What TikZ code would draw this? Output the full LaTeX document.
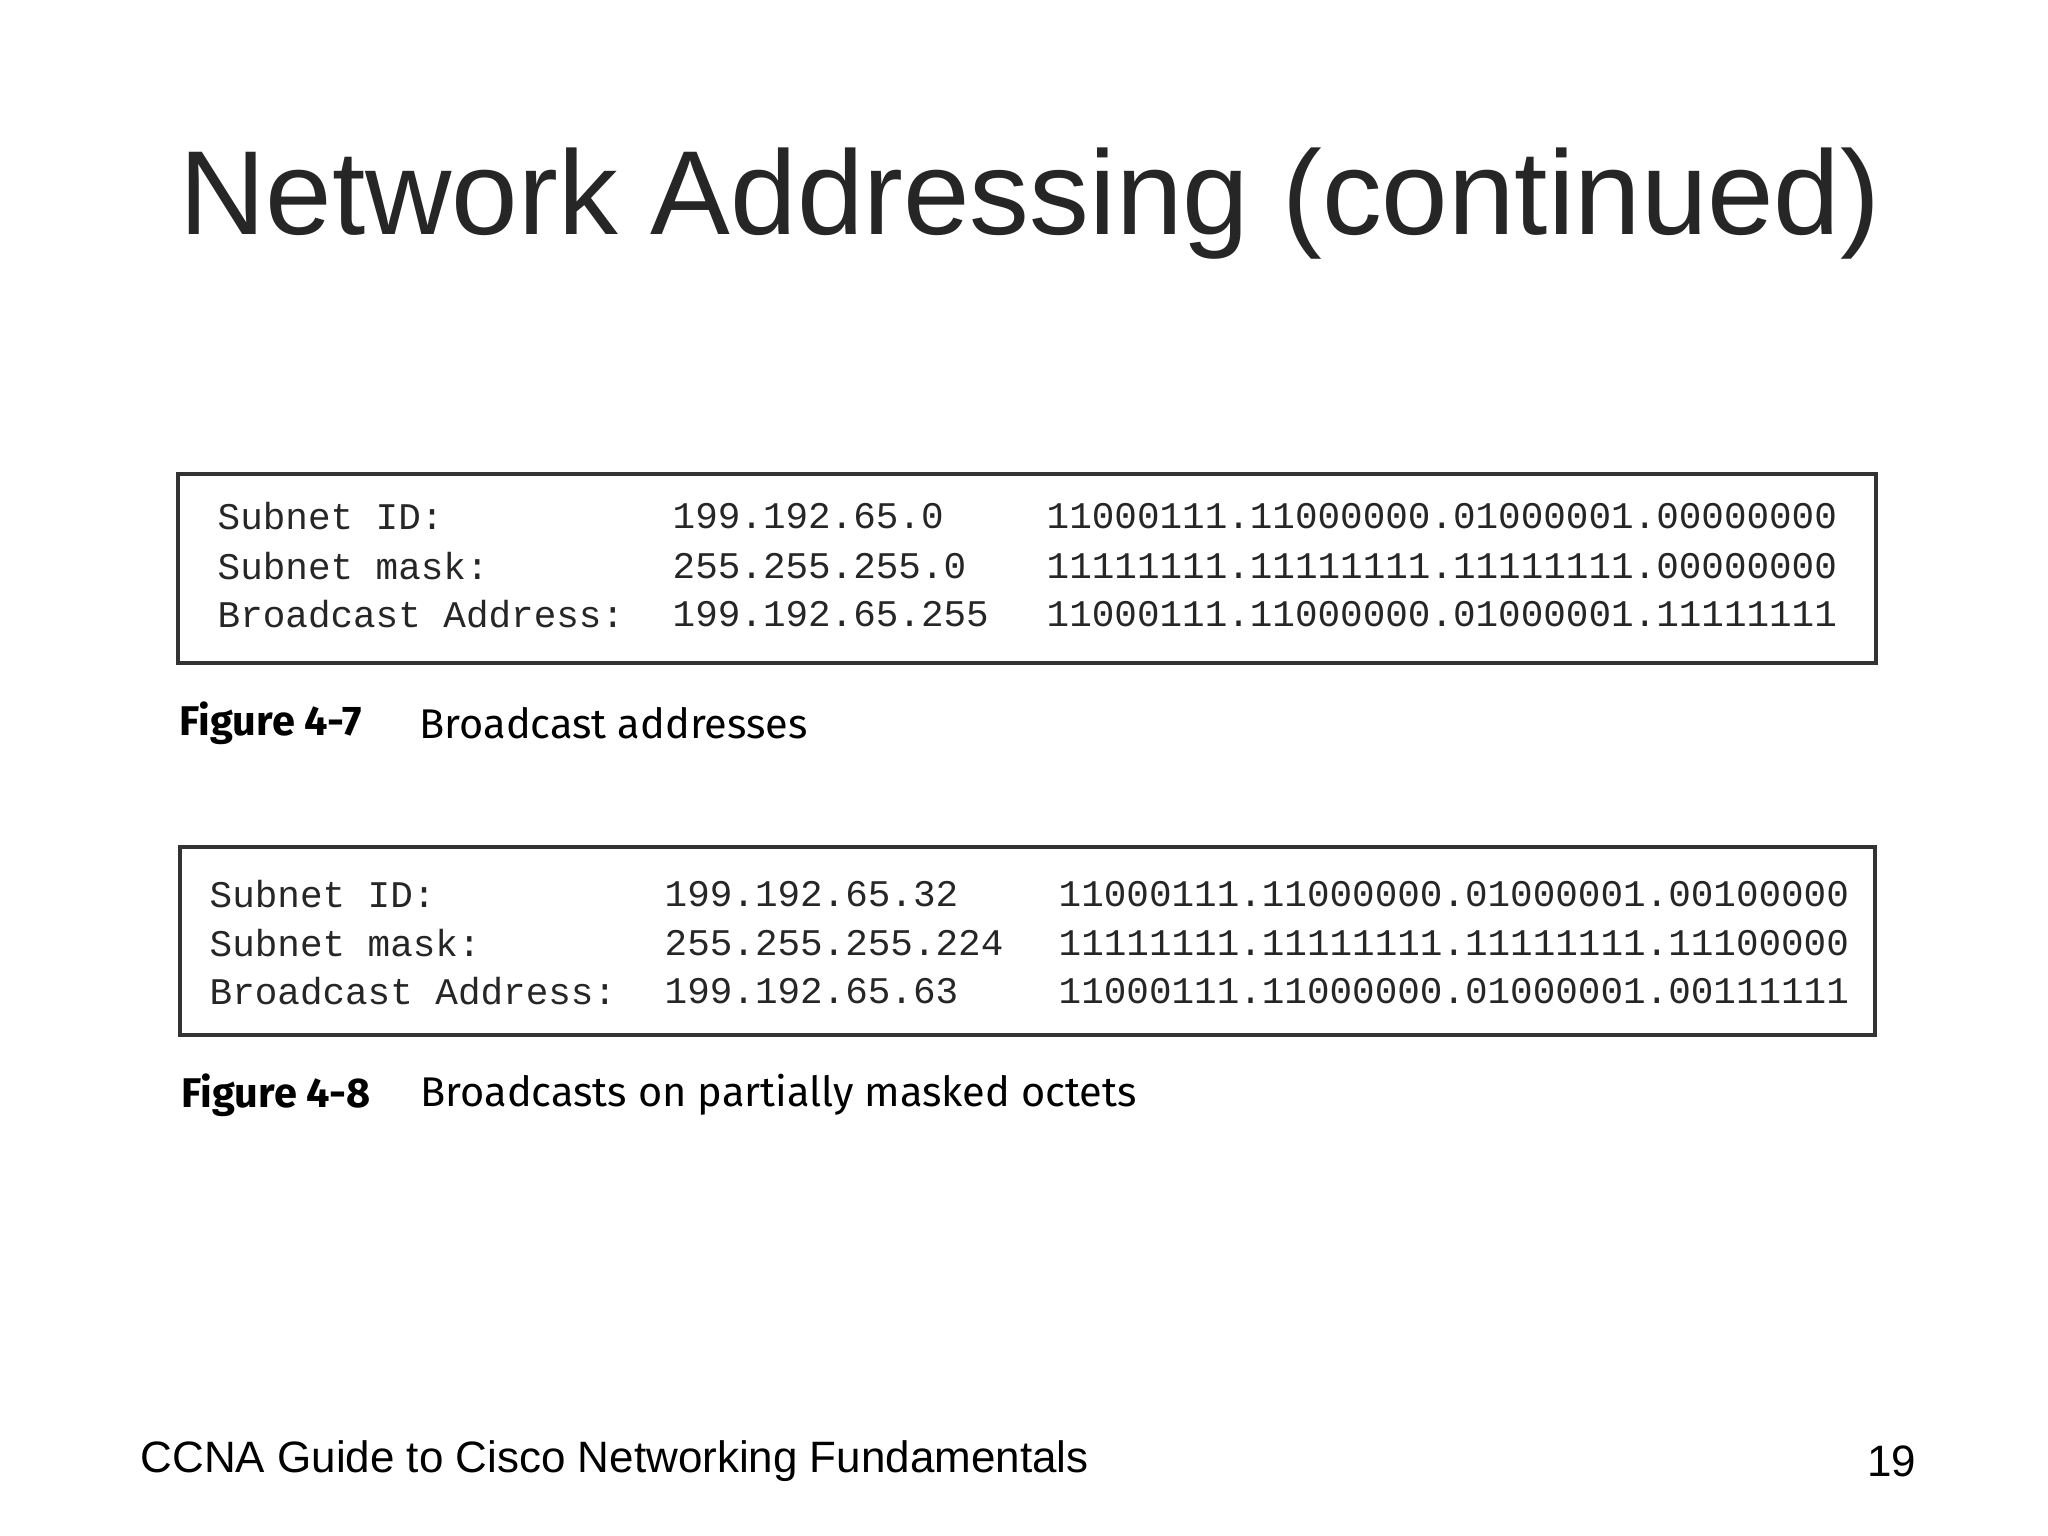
\documentclass[tikz,border=0pt]{standalone}
\usepackage{fontspec}
\setmainfont{Liberation Sans}
\newfontfamily\monof{Liberation Mono}
\newfontfamily\capf{Fira Sans}
\begin{document}
\begin{tikzpicture}[x=0.01cm,y=-0.01cm,
  mono/.style={anchor=west,inner sep=0pt,font=\monof\fontsize{10.7}{12}\selectfont,text=black!85},
  captxt/.style={anchor=west,inner sep=0pt,font=\capf\fontsize{11.8}{14}\selectfont},
  capb/.style={anchor=west,inner sep=0pt,font=\capf\bfseries\fontsize{11.8}{14}\selectfont},
  frame/.style={draw=black!80,line width=0.9pt}]
\useasboundingbox (0,0) rectangle (2048,1536);
\node[font=\fontsize{34}{40}\selectfont,text=black!85] (title) at (1030,204) {Network Addressing (continued)};
\draw[frame] (178,474) rectangle (1876,663);
\foreach \r/\a/\b/\c [count=\i] in {516/Subnet ID:/199.192.65.0/11000111.11000000.01000001.00000000,
  566/Subnet mask:/255.255.255.0/11111111.11111111.11111111.00000000,
  614/Broadcast Address:/199.192.65.255/11000111.11000000.01000001.11111111}{
  \node[mono] (a\i) at (217,\r) {\a};
  \node[mono] (b\i) at (672,\r) {\b};
  \node[mono] (c\i) at (1046,\r) {\c};}
\node[capb] (f7) at (179,723) {Figure 4-7};
\node[captxt] (f7t) at (419,723) {Broadcast addresses};
\draw[frame] (180,847) rectangle (1875,1035);
\foreach \r/\a/\b/\c [count=\i] in {894/Subnet ID:/199.192.65.32/11000111.11000000.01000001.00100000,
  943/Subnet mask:/255.255.255.224/11111111.11111111.11111111.11100000,
  991/Broadcast Address:/199.192.65.63/11000111.11000000.01000001.00111111}{
  \node[mono] (d\i) at (209,\r) {\a};
  \node[mono] (e\i) at (664,\r) {\b};
  \node[mono] (g\i) at (1058,\r) {\c};}
\node[capb] (f8) at (181,1095) {Figure 4-8};
\node[captxt] (f8t) at (420,1095) {Broadcasts on partially masked octets};
\node[anchor=west,inner sep=0pt,font=\fontsize{12.5}{15}\selectfont] (foot) at (140,1461) {CCNA Guide to Cisco Networking Fundamentals};
\node[anchor=east,inner sep=0pt,font=\fontsize{12.5}{15}\selectfont] (pg) at (1917,1461) {19};
\end{tikzpicture}
\end{document}
